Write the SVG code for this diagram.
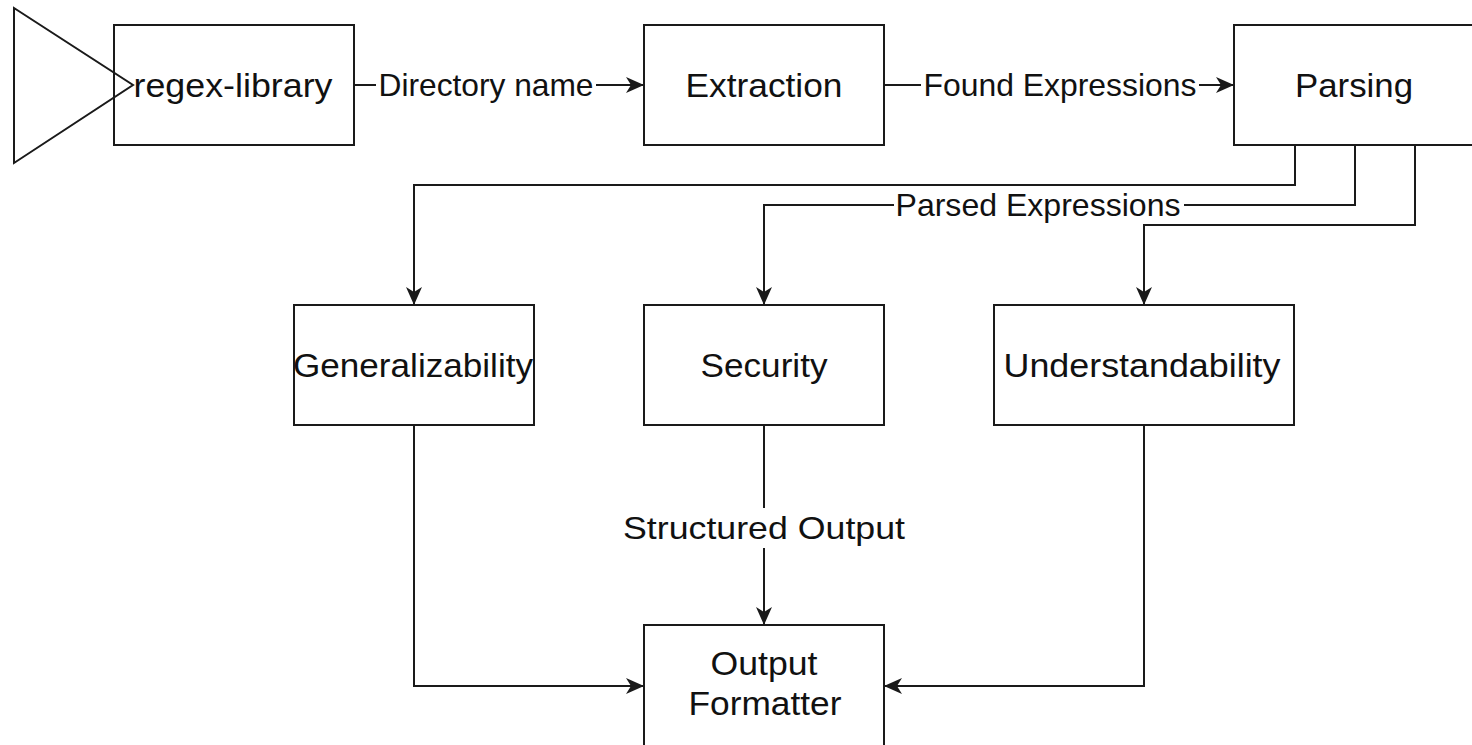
<svg xmlns="http://www.w3.org/2000/svg" width="1472" height="745" viewBox="0 0 1472 745">
  <style>
    .box { fill: #ffffff; stroke: #1a1a1a; stroke-width: 2; }
    .edge { fill: none; stroke: #1a1a1a; stroke-width: 2; }
    .lbl { font-family: "Liberation Sans", Arial, Helvetica, sans-serif; fill: #111111; text-anchor: middle; }
    .node { font-size: 34px; }
    .elbl { font-size: 32px; }
    .bg { fill: #ffffff; stroke: none; }
  </style>
  <defs>
    <marker id="arrow" viewBox="0 0 18 16" refX="17" refY="8" markerWidth="18" markerHeight="16" markerUnits="userSpaceOnUse" orient="auto">
      <path d="M0,0 L18,8 L0,16 L5,8 Z" fill="#1a1a1a"/>
    </marker>
  </defs>
  <rect width="1472" height="745" fill="#ffffff"/>

  <!-- connectors -->
  <g id="connectors">
    <path class="edge" d="M354,85 H643" marker-end="url(#arrow)"/>
    <path class="edge" d="M884,85 H1233" marker-end="url(#arrow)"/>
    <path class="edge" d="M1295,145 V185 H414 V304" marker-end="url(#arrow)"/>
    <path class="edge" d="M1355,145 V205 H764 V304" marker-end="url(#arrow)"/>
    <path class="edge" d="M1415,145 V225 H1144 V304" marker-end="url(#arrow)"/>
    <path class="edge" d="M764,425 V624" marker-end="url(#arrow)"/>
    <path class="edge" d="M414,425 V686 H643" marker-end="url(#arrow)"/>
    <path class="edge" d="M1144,425 V686 H885" marker-end="url(#arrow)"/>

    <!-- edge labels -->
    <rect class="bg" x="376" y="68" width="220" height="36"/>
    <text class="lbl elbl" x="486" y="96" textLength="215" lengthAdjust="spacingAndGlyphs">Directory name</text>
    <rect class="bg" x="921" y="68" width="278" height="36"/>
    <text class="lbl elbl" x="1060" y="96" textLength="273" lengthAdjust="spacingAndGlyphs">Found Expressions</text>
    <rect class="bg" x="894" y="190" width="290" height="34"/>
    <text class="lbl elbl" x="1038" y="216" textLength="285" lengthAdjust="spacingAndGlyphs">Parsed Expressions</text>
    <rect class="bg" x="620" y="508" width="288" height="40"/>
    <text class="lbl elbl" x="764" y="539" textLength="282" lengthAdjust="spacingAndGlyphs">Structured Output</text>
  </g>

  <!-- source repository -->
  <g id="regex-library">
    <rect class="box" x="114" y="25" width="240" height="120"/>
    <polygon points="14,8 14,163 133,85" fill="none" stroke="#1a1a1a" stroke-width="2"/>
    <text class="lbl node" x="233" y="97" textLength="199" lengthAdjust="spacingAndGlyphs">regex-library</text>
  </g>

  <g id="extraction">
    <rect class="box" x="644" y="25" width="240" height="120"/>
    <text class="lbl node" x="764" y="97" textLength="157" lengthAdjust="spacingAndGlyphs">Extraction</text>
  </g>

  <g id="parsing">
    <rect class="box" x="1234" y="25" width="240" height="120"/>
    <text class="lbl node" x="1354" y="97" textLength="118" lengthAdjust="spacingAndGlyphs">Parsing</text>
  </g>

  <g id="generalizability">
    <rect class="box" x="294" y="305" width="240" height="120"/>
    <text class="lbl node" x="413" y="377" textLength="240" lengthAdjust="spacingAndGlyphs">Generalizability</text>
  </g>

  <g id="security">
    <rect class="box" x="644" y="305" width="240" height="120"/>
    <text class="lbl node" x="764" y="377" textLength="127" lengthAdjust="spacingAndGlyphs">Security</text>
  </g>

  <g id="understandability">
    <rect class="box" x="994" y="305" width="300" height="120"/>
    <text class="lbl node" x="1142" y="377" textLength="277" lengthAdjust="spacingAndGlyphs">Understandability</text>
  </g>

  <g id="output-formatter">
    <rect class="box" x="644" y="625" width="240" height="122"/>
    <text class="lbl node" x="764" y="675" textLength="107" lengthAdjust="spacingAndGlyphs">Output</text>
    <text class="lbl node" x="765" y="715" textLength="153" lengthAdjust="spacingAndGlyphs">Formatter</text>
  </g>
</svg>
